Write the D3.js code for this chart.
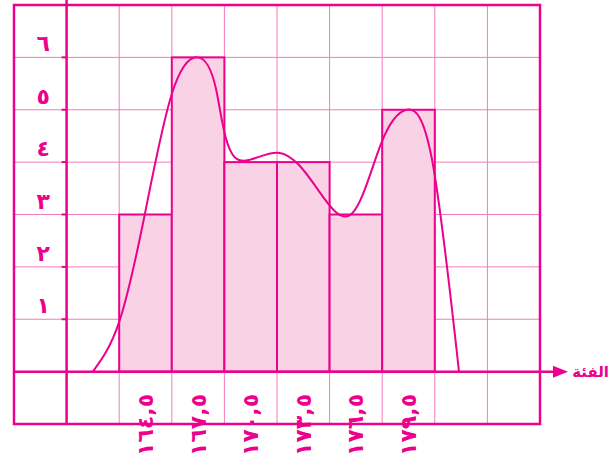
<!DOCTYPE html>
<html>
<head>
<meta charset="utf-8">
<script src="https://cdn.jsdelivr.net/npm/d3@7"></script>
<style>
  body { margin: 0; background: #fff; }
  text { font-family: "DejaVu Sans", sans-serif; fill: #ec008c; }
</style>
</head>
<body>
<div id="chart"></div>
<script>
// class centres and frequencies
const centres = [164.5, 167.5, 170.5, 173.5, 176.5, 179.5];
const freqs = [3, 6, 4, 4, 3, 5];
const xLabels = ['١٦٤,٥', '١٦٧,٥', '١٧٠,٥', '١٧٣,٥', '١٧٦,٥', '١٧٩,٥'];
const yTicks = [1, 2, 3, 4, 5, 6];
const yLabels = ['١', '٢', '٣', '٤', '٥', '٦'];
// hand drawn frequency curve
const curveX = [161.5, 163, 164.47, 166, 167.44, 168.52, 169.6, 172.06, 174.34, 176.28, 177.93, 179.41, 180.84, 182.38];
const curveY = [0, 0.95, 3.02, 5.3, 6.0, 5.4, 4.09, 4.18, 3.47, 3.02, 4.35, 5.0, 4.05, 0];
const classWidth = 3;

const magenta = '#ec008c';
const gridCol = '#f47bbd';
const fillCol = '#f9d3e5';

const svg = d3.select('#chart').append('svg')
  .attr('width', 612)
  .attr('height', 464);

const x = d3.scaleLinear().domain([157, 187]).range([14, 540]);
const y = d3.scaleLinear().domain([-1, 7]).range([424, 5]);

// grid
const gx = d3.range(157, 187.1, classWidth);
const gy = d3.range(-1, 7.1, 1);
svg.append('g').selectAll('line').data(gx).join('line')
  .attr('x1', d => x(d)).attr('x2', d => x(d))
  .attr('y1', y(7)).attr('y2', y(-1))
  .attr('stroke', gridCol).attr('stroke-width', 1);
svg.append('g').selectAll('line').data(gy).join('line')
  .attr('x1', x(157)).attr('x2', x(187))
  .attr('y1', d => y(d)).attr('y2', d => y(d))
  .attr('stroke', gridCol).attr('stroke-width', 1);

// bars
svg.append('g').selectAll('rect').data(freqs).join('rect')
  .attr('x', (d, i) => x(centres[i] - classWidth / 2))
  .attr('width', x(classWidth) - x(0))
  .attr('y', d => y(d))
  .attr('height', d => y(0) - y(d))
  .attr('fill', fillCol)
  .attr('stroke', magenta)
  .attr('stroke-width', 2);

// outer frame
svg.append('rect')
  .attr('x', x(157)).attr('y', y(7))
  .attr('width', x(187) - x(157)).attr('height', y(-1) - y(7))
  .attr('fill', 'none').attr('stroke', magenta).attr('stroke-width', 2.5);

// y axis
svg.append('line')
  .attr('x1', x(160)).attr('x2', x(160))
  .attr('y1', 0).attr('y2', y(-1))
  .attr('stroke', magenta).attr('stroke-width', 2.5);
svg.append('g').selectAll('line').data(yTicks).join('line')
  .attr('x1', x(160) - 5).attr('x2', x(160))
  .attr('y1', d => y(d)).attr('y2', d => y(d))
  .attr('stroke', magenta).attr('stroke-width', 2);
svg.append('g').selectAll('text').data(yTicks).join('text')
  .attr('x', 50)
  .attr('y', d => y(d) - 6)
  .attr('text-anchor', 'end')
  .attr('font-size', 22)
  .attr('font-weight', 'bold')
  .text((d, i) => yLabels[i]);

// x axis with arrow
svg.append('line')
  .attr('x1', x(157)).attr('x2', 556)
  .attr('y1', y(0)).attr('y2', y(0))
  .attr('stroke', magenta).attr('stroke-width', 2.5);
svg.append('path')
  .attr('d', `M553,${y(0) - 6}L568,${y(0)}L553,${y(0) + 6}Z`)
  .attr('fill', magenta);
svg.append('text')
  .attr('x', 609).attr('y', y(0) + 5)
  .attr('text-anchor', 'end')
  .attr('font-size', 15)
  .attr('font-weight', 'bold')
  .text('الفئة');

// x labels, rotated
svg.append('g').selectAll('text').data(xLabels).join('text')
  .attr('transform', (d, i) => `translate(${x(centres[i])},456) rotate(-90)`)
  .attr('dominant-baseline', 'central')
  .attr('font-size', 22)
  .attr('font-weight', 'bold')
  .attr('letter-spacing', 5)
  .text(d => d);

// frequency curve
const line = d3.line()
  .x(d => x(d[0]))
  .y(d => y(d[1]))
  .curve(d3.curveNatural);
svg.append('path')
  .datum(curveX.map((v, i) => [v, curveY[i]]))
  .attr('d', line)
  .attr('fill', 'none')
  .attr('stroke', magenta)
  .attr('stroke-width', 2);
</script>
</body>
</html>
